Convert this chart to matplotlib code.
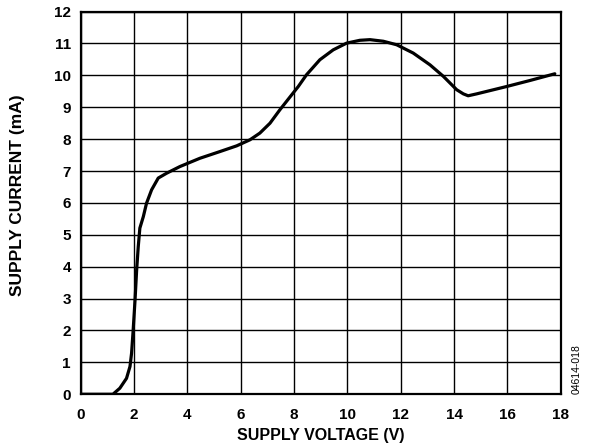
import matplotlib.pyplot as plt
import numpy as np

# supply current vs supply voltage
voltage = [0.0, 0.6, 1.21, 1.47, 1.72, 1.85, 1.91, 1.97, 2.04, 2.1, 2.16, 2.22, 2.35,
           2.47, 2.66, 2.91, 3.22, 3.72, 4.47, 5.22, 5.85, 6.35, 6.72, 7.1, 7.47,
           7.8, 8.16, 8.47, 8.97, 9.47, 9.97, 10.47, 10.85, 11.35, 11.85, 12.47,
           13.1, 13.6, 14.1, 14.35, 14.53, 14.85, 15.97, 16.85, 17.78]
current = [0.0, 0.0, 0.0, 0.19, 0.5, 0.87, 1.29, 2.02, 2.96, 3.9, 4.63, 5.21, 5.57,
           5.99, 6.41, 6.78, 6.93, 7.14, 7.4, 7.61, 7.79, 7.98, 8.19, 8.5, 8.92,
           9.27, 9.65, 10.02, 10.49, 10.8, 11.01, 11.1, 11.12, 11.07, 10.96, 10.7,
           10.33, 9.97, 9.55, 9.42, 9.36, 9.42, 9.65, 9.84, 10.05]

x_ticks = np.arange(0, 19, 2)
y_ticks = np.arange(0, 13, 1)

plt.rcParams['font.family'] = ['Liberation Sans', 'DejaVu Sans']

fig = plt.figure(figsize=(5.93, 4.46), dpi=100)
ax = fig.add_axes([0.136, 0.116, 0.8095, 0.858])

ax.plot(voltage, current, color='black', linewidth=2.3,
        solid_joinstyle='round', solid_capstyle='round')

ax.set_xlim(0, 18)
ax.set_ylim(0, 12)
ax.set_xticks(x_ticks)
ax.set_yticks(y_ticks)
ax.grid(True, color='black', linewidth=1.0)
ax.tick_params(axis='x', length=0, pad=10, labelsize=11)
ax.tick_params(axis='y', length=0, pad=7, labelsize=11)
for lbl in ax.get_xticklabels() + ax.get_yticklabels():
    lbl.set_fontweight('bold')
for s in ax.spines.values():
    s.set_linewidth(1.6)

ax.set_xlabel('SUPPLY VOLTAGE (V)', fontsize=11.5, fontweight='bold', labelpad=4)
ax.set_ylabel('SUPPLY CURRENT (mA)', fontsize=12.5, fontweight='bold')
ax.yaxis.set_label_coords(-0.116, 0.521)

fig.text(0.973, 0.116, '04614-018', rotation=90, fontsize=7.5, ha='center', va='bottom')

fig.savefig('out.png', dpi=100)
